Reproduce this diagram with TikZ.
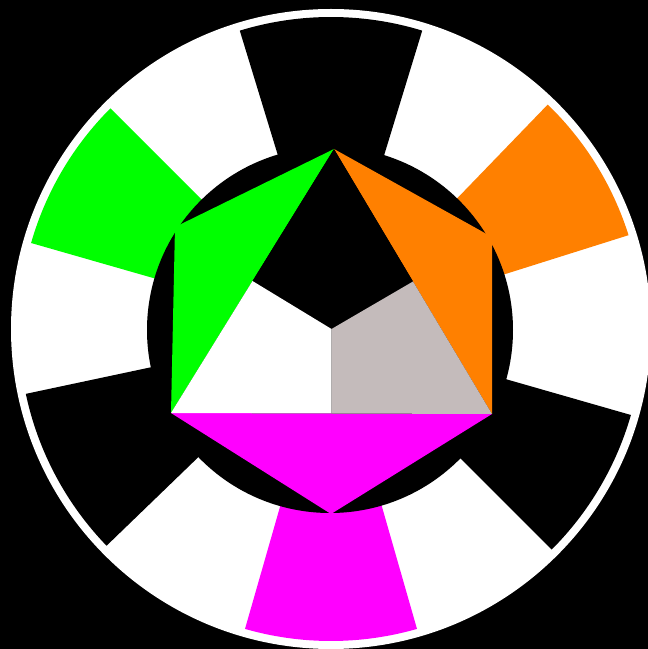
\documentclass[tikz,border=0pt]{standalone}
\usetikzlibrary{calc}
\definecolor{wgreen}{RGB}{0,255,0}
\definecolor{worange}{RGB}{255,128,0}
\definecolor{wmagenta}{RGB}{255,0,255}
\definecolor{wgray}{RGB}{196,187,187}
\newcommand{\wseg}[3]{\fill[#1] (0,0) -- (#2:312) arc[start angle=#2,end angle=#3,radius=312] -- cycle;}
\begin{document}
\begin{tikzpicture}[x=1pt,y=1pt]
\fill[black] (0,0) rectangle (648,649);
\clip (0,0) rectangle (648,649);
\begin{scope}[shift={(331,320)}]
  % outer white disk
  \fill[white] (0,0) circle[radius=320];
  % ring segments
  \wseg{black}{73}{107}
  \wseg{worange}{17.5}{46}
  \wseg{black}{-45}{-16}
  \wseg{wmagenta}{-106}{-74}
  \wseg{black}{192}{224}
  \wseg{wgreen}{135}{164}
\end{scope}
% inner black disk
\fill[black] (330,319) circle[radius=183];
% hexagon vertices (image px, y flipped)
\coordinate (T) at (334,500);
\coordinate (UR) at (492,412);
\coordinate (LR) at (492,235);
\coordinate (B) at (331,135);
\coordinate (LL) at (171,236);
\coordinate (UL) at (175,422);
\coordinate (ML) at ($(T)!0.5!(LL)$);
\coordinate (MR) at ($(T)!0.5!(LR)$);
\coordinate (MB) at ($(LL)!0.5!(LR)$);
\coordinate (O) at ($(MB)+(0,84.5)$);
% outer triangles
\fill[wgreen] (T) -- (UL) -- (LL) -- cycle;
\fill[worange] (T) -- (UR) -- (LR) -- cycle;
\fill[wmagenta] (LL) -- (B) -- (LR) -- cycle;
% inner triangle parts
\fill[black] (T) -- (ML) -- (O) -- (MR) -- cycle;
\fill[white] (ML) -- (LL) -- (MB) -- (O) -- cycle;
\fill[wgray] (O) -- (MB) -- (LR) -- (MR) -- cycle;
\end{tikzpicture}
\end{document}
